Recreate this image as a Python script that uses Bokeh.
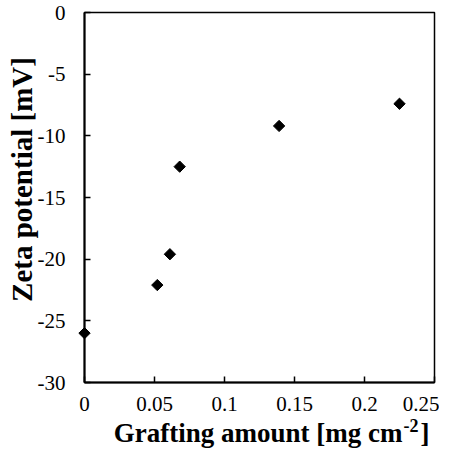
import math
from bokeh.plotting import figure
from bokeh.models import Range1d, FixedTicker
from bokeh.core.properties import value
from bokeh.embed import file_html
from bokeh.resources import INLINE

grafting = [0.0, 0.052, 0.061, 0.068, 0.139, 0.225]
zeta = [-26.0, -22.1, -19.6, -12.5, -9.2, -7.4]

x_ticks = [0, 0.05, 0.1, 0.15, 0.2, 0.25]
x_tick_labels = ["0", "0.05", "0.1", "0.15", "0.2", "0.25"]
y_ticks = [-30, -25, -20, -15, -10, -5, 0]
y_tick_labels = ["-30", "-25", "-20", "-15", "-10", "-5", "0"]

x_title = "Grafting amount [mg cm"
x_title_sup = "-2"
x_title_end = "]"
y_title = "Zeta potential [mV]"

FONT = "Liberation Serif"

x_min, x_max = 0, 0.25
y_min, y_max = -30, 0

p = figure(width=439, height=449, output_backend="svg", toolbar_location=None,
           x_range=Range1d(x_min, x_max), y_range=Range1d(y_min, y_max),
           min_border_left=84, min_border_right=5, min_border_top=12, min_border_bottom=67)
p.xgrid.visible = False
p.ygrid.visible = False
p.outline_line_color = "black"
p.outline_line_width = 1.5
p.outline_line_alpha = 1.0
p.background_fill_color = "white"
p.border_fill_color = "white"

for ax, ticks, labels in ((p.xaxis[0], x_ticks, x_tick_labels), (p.yaxis[0], y_ticks, y_tick_labels)):
    ax.ticker = FixedTicker(ticks=ticks)
    ax.major_label_overrides = {t: l for t, l in zip(ticks, labels)}
    ax.major_tick_in = 6
    ax.major_tick_out = 0
    ax.minor_tick_line_color = None
    ax.axis_line_width = 2
    ax.axis_line_color = "black"
    ax.major_tick_line_width = 1.5
    ax.major_tick_line_color = "black"
    ax.major_label_text_font = FONT
    ax.major_label_text_font_size = "21px"
    ax.major_label_text_color = "black"

p.xaxis.major_label_standoff = 14
p.yaxis.major_label_standoff = 19

r = p.scatter(grafting, zeta, marker="square", angle=math.pi / 4, size=8,
              fill_color="black", line_color="black")
r.level = "overlay"

# axis titles, anchored at the frame's lower-left corner and offset in pixels
def title_text(txt, dx, dy, size, align, angle=0.0):
    t = p.text(x=[x_min], y=[y_min], text=[txt], x_offset=dx, y_offset=dy, angle=angle,
               text_align=align, text_baseline="alphabetic",
               text_font=value(FONT), text_font_size=size, text_font_style="bold",
               text_color="black")
    t.level = "overlay"
    return t

title_text(y_title, -63, -203, "29px", "center", math.pi / 2)
title_text(x_title, 318, 50, "27px", "right")
title_text(x_title_sup, 319, 43, "18px", "left")
title_text(x_title_end, 336, 50, "27px", "left")

open("out.html", "w").write(file_html(p, INLINE))
